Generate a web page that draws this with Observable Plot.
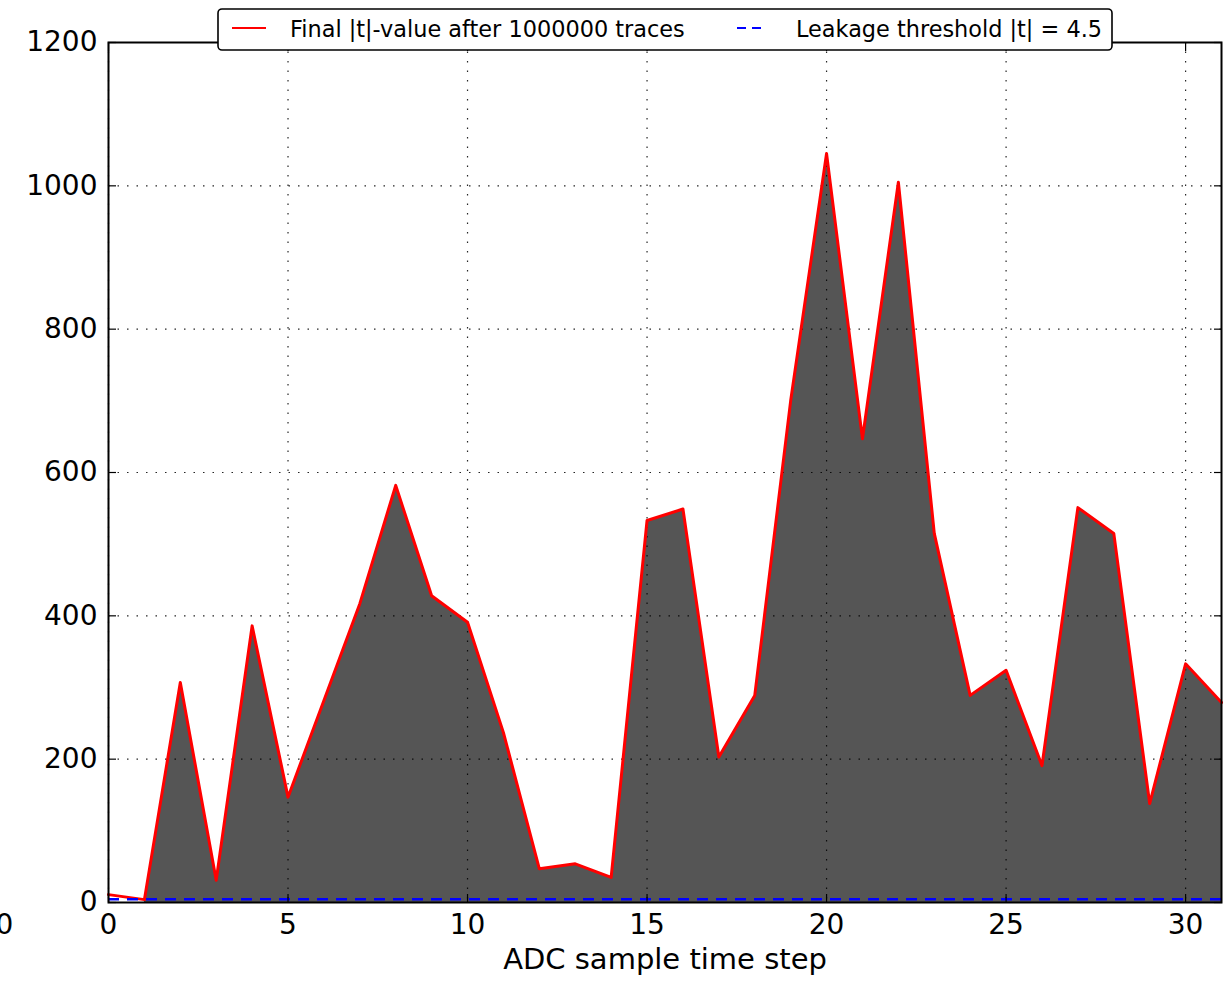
<!DOCTYPE html>
<html>
<head>
<meta charset="utf-8">
<script src="https://cdn.jsdelivr.net/npm/d3@7"></script>
<script src="https://cdn.jsdelivr.net/npm/@observablehq/plot@0.6"></script>
<style>
  html, body { margin: 0; padding: 0; background: white; }
  #chart svg { display: block; }
</style>
</head>
<body>
<div id="chart"></div>
<script>
// ---- data ----
const steps = [0,1,2,3,4,5,6,7,8,9,10,11,12,13,14,15,16,17,18,19,20,21,22,23,24,25,26,27,28,29,30,31];
const tValues = [11,4,307,31,386,147,282,417,582,428,391,237,47,54,35,533,549,203,289,700,1045,647,1005,515,289,324,191,551,515,138,333,279];
const threshold = 4.5;
const xTicks = [0,5,10,15,20,25,30];
const yTicks = [0,200,400,600,800,1000,1200];
const seriesLabel = "Final |t|-value after 1000000 traces";
const thresholdLabel = "Leakage threshold |t| = 4.5";
const xLabel = "ADC sample time step";

const data = steps.map((s, i) => ({step: s, t: tValues[i]}));
const areaData = data.filter(d => d.step >= 1);

const W = 1224, H = 985;
const mL = 108, mR = 3, mT = 42, mB = 83;
const gridStyle = {stroke: "black", strokeOpacity: 0.85, strokeWidth: 1.2, strokeDasharray: "1.5,8"};

const plot = Plot.plot({
  width: W, height: H,
  marginLeft: mL, marginRight: mR, marginTop: mT, marginBottom: mB,
  style: {fontFamily: "DejaVu Sans", fontSize: "28px", background: "white", overflow: "hidden", color: "black"},
  x: {domain: [0, 31], ticks: xTicks},
  y: {domain: [0, 1200], ticks: yTicks},
  marks: [
    Plot.areaY(areaData, {x: "step", y: "t", fill: "#555555"}),
    Plot.gridX(xTicks, {...gridStyle}),
    Plot.gridY(yTicks, {...gridStyle}),
    Plot.lineY(data, {x: "step", y: "t", stroke: "#ff0000", strokeWidth: 3}),
    Plot.ruleY([threshold], {stroke: "#0000ff", strokeWidth: 2.4, strokeDasharray: "11,8"}),
    Plot.axisY(yTicks, {anchor: "left", tickSize: -8, tickPadding: 19, label: null, tickFormat: d => String(d), strokeWidth: 1.2}),
    Plot.axisY(yTicks, {anchor: "right", tickSize: -8, label: null, tickFormat: () => "", strokeWidth: 1.2}),
    Plot.axisX(xTicks, {anchor: "bottom", tickSize: -8, tickPadding: 20, label: null, tickFormat: d => String(d), strokeWidth: 1.2}),
    Plot.axisX(xTicks, {anchor: "top", tickSize: -8, label: null, tickFormat: () => "", strokeWidth: 1.2}),
    Plot.frame({stroke: "black", strokeWidth: 2}),
    Plot.text([xLabel], {frameAnchor: "bottom", dy: 66, fontSize: 29, fill: "black"}),
    Plot.text(["0"], {frameAnchor: "bottom-left", lineAnchor: "top", dx: -113, dy: 12, fontSize: 28, fill: "black"})
  ]
});

document.getElementById("chart").appendChild(plot);

// ---- legend ----
const svg = d3.select(plot);
const lg = svg.append("g").attr("class", "legend")
  .attr("font-family", "DejaVu Sans").attr("font-size", 22.4).attr("text-anchor", "start");
lg.append("rect")
  .attr("x", 218).attr("y", 9).attr("width", 894).attr("height", 41)
  .attr("rx", 4).attr("ry", 4)
  .attr("fill", "white").attr("stroke", "black").attr("stroke-width", 1.6);
lg.append("line").attr("x1", 232).attr("x2", 266).attr("y1", 28).attr("y2", 28)
  .attr("stroke", "#ff0000").attr("stroke-width", 2.2);
lg.append("text").attr("x", 290).attr("y", 29).attr("dy", "0.35em").attr("text-anchor", "start").attr("fill", "black").text(seriesLabel);
lg.append("line").attr("x1", 737).attr("x2", 767).attr("y1", 28).attr("y2", 28)
  .attr("stroke", "#0000ff").attr("stroke-width", 2.2).attr("stroke-dasharray", "9,6");
lg.append("text").attr("x", 796).attr("y", 29).attr("dy", "0.35em").attr("text-anchor", "start").attr("fill", "black").text(thresholdLabel);
</script>
</body>
</html>
